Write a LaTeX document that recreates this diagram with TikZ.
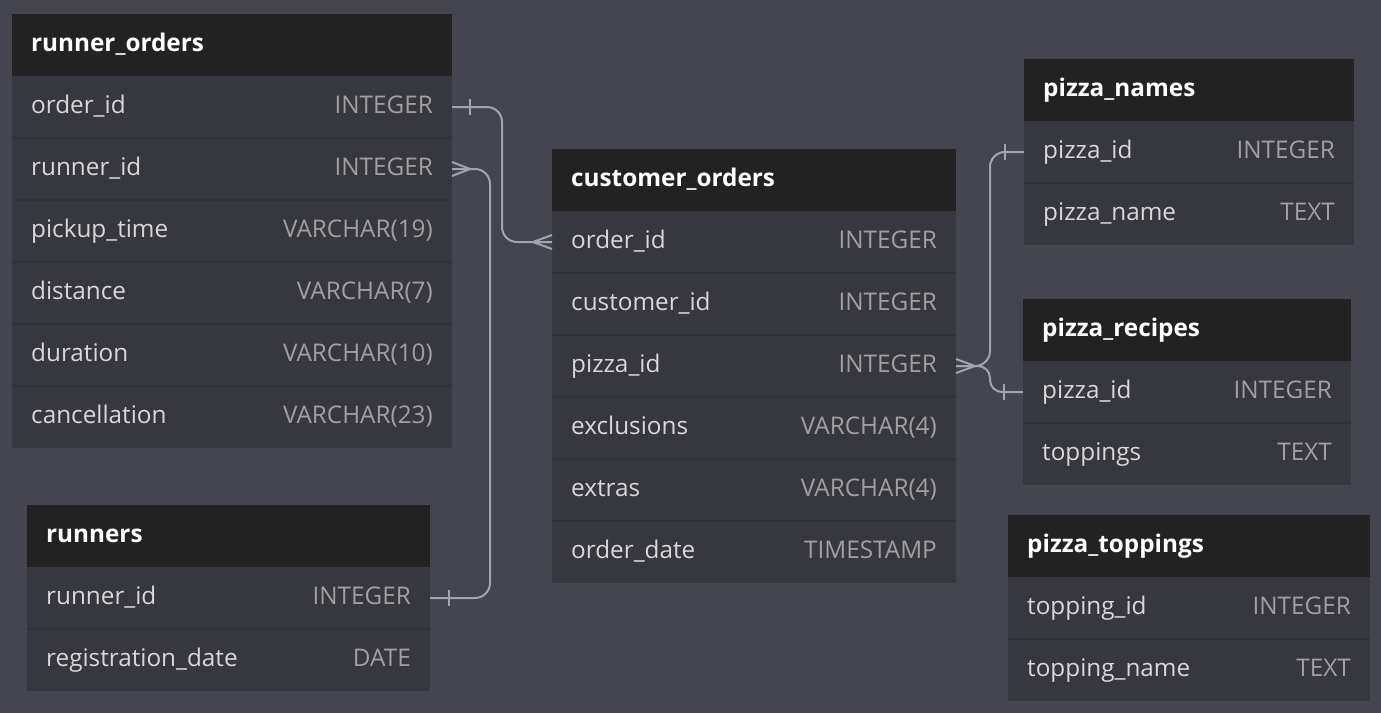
\documentclass[tikz,border=0pt]{standalone}
\usepackage{fontspec}
\setmainfont{Open Sans}
\usetikzlibrary{positioning,calc}
\definecolor{canvas}{HTML}{45454F}
\definecolor{headfill}{HTML}{222222}
\definecolor{rowfill}{HTML}{37373F}
\definecolor{rowsep}{HTML}{303037}
\definecolor{namecol}{HTML}{D8D8D8}
\definecolor{typecol}{HTML}{A0A0A0}
\definecolor{relcol}{HTML}{A4A4AE}
\tikzset{
  tablehead/.style={fill=headfill, minimum height=62, inner sep=0pt, outer sep=0pt, anchor=north west},
  tablerow/.style={fill=rowfill, minimum height=62, inner sep=0pt, outer sep=0pt, anchor=north west},
  headtext/.style={anchor=west, xshift=19pt, inner sep=0pt, text=white,
    font=\fontsize{24.3}{29}\selectfont\bfseries, text height=18pt, text depth=5pt},
  nametext/.style={anchor=west, xshift=19pt, inner sep=0pt, text=namecol,
    font=\fontsize{24.3}{29}\selectfont, text height=18pt, text depth=5pt},
  typetext/.style={anchor=east, xshift=-19pt, inner sep=0pt, text=typecol,
    font=\fontsize{24.3}{29}\selectfont, text height=18pt, text depth=5pt},
  rowline/.style={draw=rowsep, line width=1.5pt},
  rel/.style={draw=relcol, line width=2pt},
}

\begin{document}
\begin{tikzpicture}[x=1pt,y=-1pt]
  \fill[canvas] (0,0) rectangle (1381,713);
  \useasboundingbox (0,0) rectangle (1381,713);

  % runner_orders
  \node[tablehead, minimum width=440] (ro) at (12,14) {};
  \node[headtext] at (ro.west) {runner\_orders};
  \foreach \f/\t [count=\i] in {order\_id/INTEGER, runner\_id/INTEGER,
      pickup\_time/VARCHAR(19), distance/VARCHAR(7), duration/VARCHAR(10),
      cancellation/VARCHAR(23)} {
    \node[tablerow, minimum width=440] (ro-\i) at (12,14+62*\i) {};
    \ifnum\i>1 \draw[rowline] (ro-\i.north west) -- (ro-\i.north east); \fi
    \node[nametext] at (ro-\i.west) {\f};
    \node[typetext] at (ro-\i.east) {\t};
  }

  % runners
  \node[tablehead, minimum width=403] (ru) at (27,505) {};
  \node[headtext] at (ru.west) {runners};
  \foreach \f/\t [count=\i] in {runner\_id/INTEGER, registration\_date/DATE} {
    \node[tablerow, minimum width=403] (ru-\i) at (27,505+62*\i) {};
    \ifnum\i>1 \draw[rowline] (ru-\i.north west) -- (ru-\i.north east); \fi
    \node[nametext] at (ru-\i.west) {\f};
    \node[typetext] at (ru-\i.east) {\t};
  }

  % customer_orders
  \node[tablehead, minimum width=404] (co) at (552,149) {};
  \node[headtext] at (co.west) {customer\_orders};
  \foreach \f/\t [count=\i] in {order\_id/INTEGER, customer\_id/INTEGER,
      pizza\_id/INTEGER, exclusions/VARCHAR(4), extras/VARCHAR(4),
      order\_date/TIMESTAMP} {
    \node[tablerow, minimum width=404] (co-\i) at (552,149+62*\i) {};
    \ifnum\i>1 \draw[rowline] (co-\i.north west) -- (co-\i.north east); \fi
    \node[nametext] at (co-\i.west) {\f};
    \node[typetext] at (co-\i.east) {\t};
  }

  % pizza_names
  \node[tablehead, minimum width=330] (pn) at (1024,59) {};
  \node[headtext] at (pn.west) {pizza\_names};
  \foreach \f/\t [count=\i] in {pizza\_id/INTEGER, pizza\_name/TEXT} {
    \node[tablerow, minimum width=330] (pn-\i) at (1024,59+62*\i) {};
    \ifnum\i>1 \draw[rowline] (pn-\i.north west) -- (pn-\i.north east); \fi
    \node[nametext] at (pn-\i.west) {\f};
    \node[typetext] at (pn-\i.east) {\t};
  }

  % pizza_recipes
  \node[tablehead, minimum width=328] (pr) at (1023,299) {};
  \node[headtext] at (pr.west) {pizza\_recipes};
  \foreach \f/\t [count=\i] in {pizza\_id/INTEGER, toppings/TEXT} {
    \node[tablerow, minimum width=328] (pr-\i) at (1023,299+62*\i) {};
    \ifnum\i>1 \draw[rowline] (pr-\i.north west) -- (pr-\i.north east); \fi
    \node[nametext] at (pr-\i.west) {\f};
    \node[typetext] at (pr-\i.east) {\t};
  }

  % pizza_toppings
  \node[tablehead, minimum width=362] (pt) at (1008,515) {};
  \node[headtext] at (pt.west) {pizza\_toppings};
  \foreach \f/\t [count=\i] in {topping\_id/INTEGER, topping\_name/TEXT} {
    \node[tablerow, minimum width=362] (pt-\i) at (1008,515+62*\i) {};
    \ifnum\i>1 \draw[rowline] (pt-\i.north west) -- (pt-\i.north east); \fi
    \node[nametext] at (pt-\i.west) {\f};
    \node[typetext] at (pt-\i.east) {\t};
  }

  % runner_orders.order_id -- customer_orders.order_id
  \draw[rel, rounded corners=15] (ro-1.east) -| ($(ro-1.east)!0.5!(co-1.west)$) |- (co-1.west);
  \draw[rel] ($(ro-1.east)+(18,8)$) -- ++(0,-16);
  \draw[rel] ($(co-1.west)+(0,7)$) -- ++(-19,-7) -- ++(19,-7);

  % runner_orders.runner_id -- runners.runner_id
  \draw[rel, rounded corners=15] (ro-2.east) -- ++(38,0) |- (ru-1.east);
  \draw[rel] ($(ro-2.east)+(0,7)$) -- ++(18,-7) -- ++(-18,-7);
  \draw[rel] ($(ru-1.east)+(19,8)$) -- ++(0,-16);

  % customer_orders.pizza_id -- pizza_names / pizza_recipes
  \draw[rel, rounded corners=15] (co-3.east) -| ($(pn-1.west)+(-34,0)$) -- (pn-1.west);
  \draw[rel, rounded corners=12] (co-3.east) -| ($(pr-1.west)+(-33,0)$) -- (pr-1.west);
  \draw[rel] ($(co-3.east)+(0,7)$) -- ++(19,-7) -- ++(-19,-7);
  \draw[rel] ($(pn-1.west)+(-19,8)$) -- ++(0,-16);
  \draw[rel] ($(pr-1.west)+(-19,8)$) -- ++(0,-16);
\end{tikzpicture}
\end{document}
